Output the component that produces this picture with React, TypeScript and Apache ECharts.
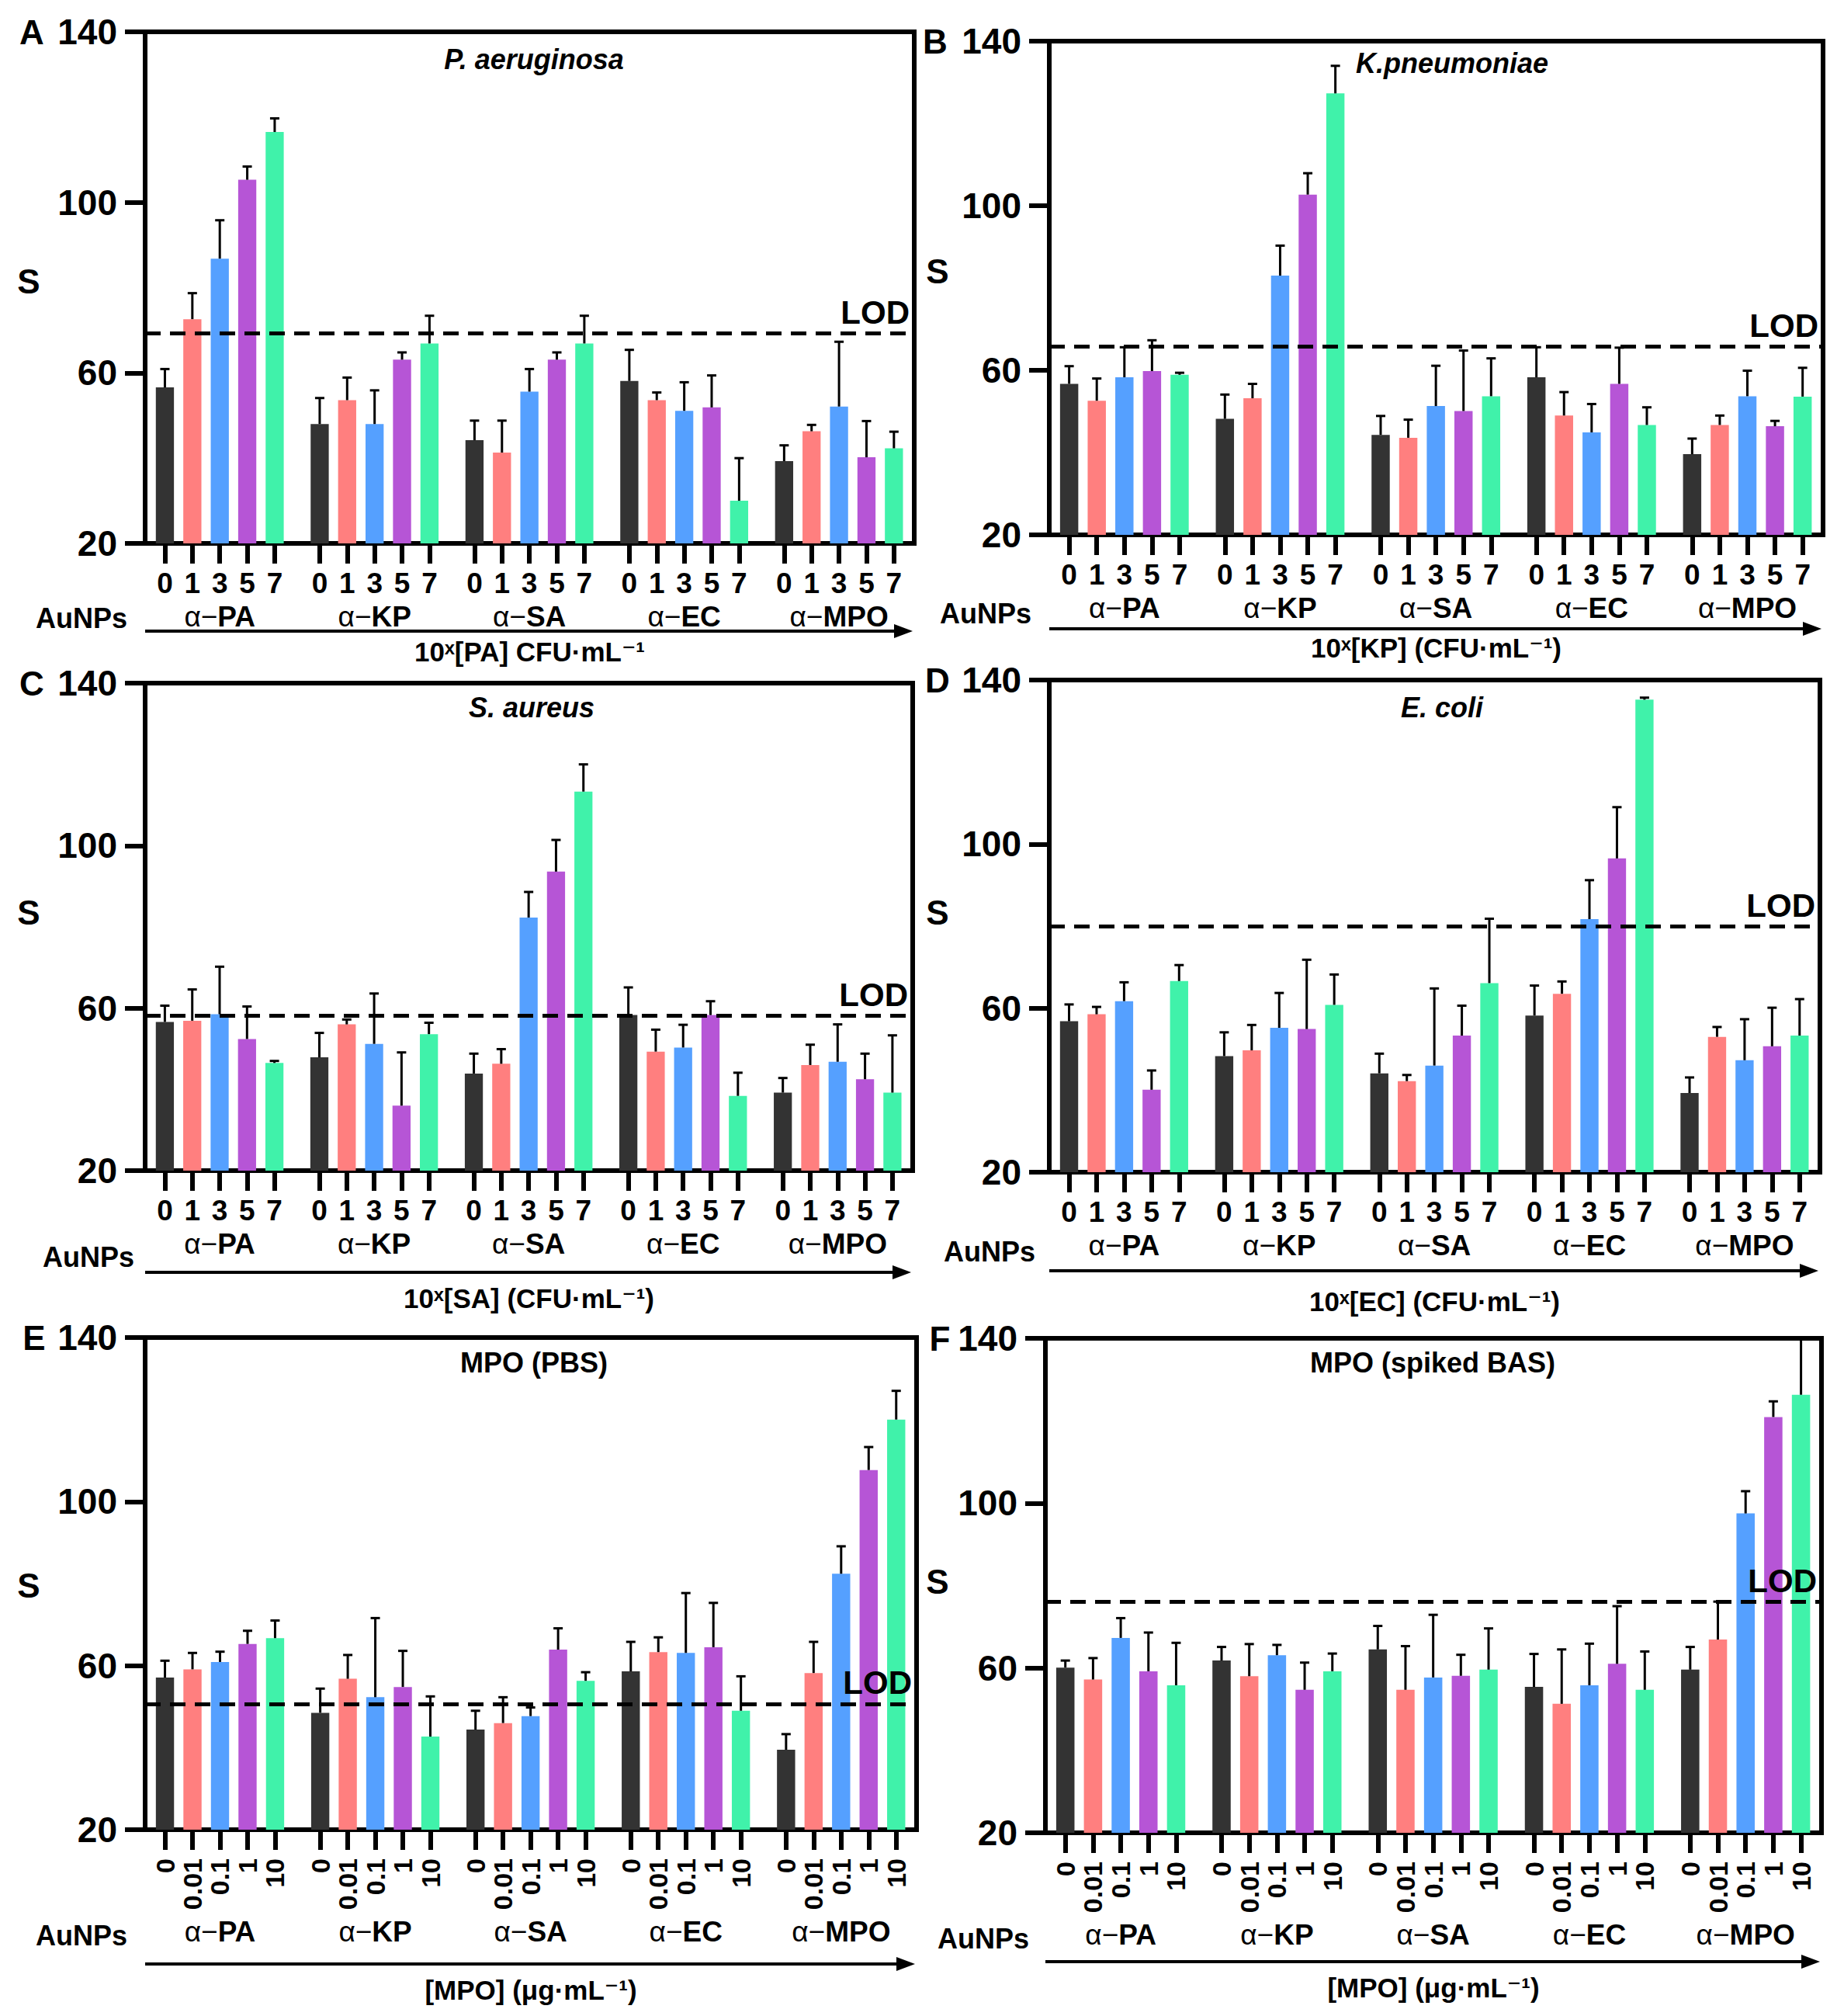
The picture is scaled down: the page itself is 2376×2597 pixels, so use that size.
import React, { useEffect, useRef } from 'react';
import * as echarts from 'echarts';

// groups of antibody-coated AuNPs and the concentration steps inside each group
const GROUPS = ['PA', 'KP', 'SA', 'EC', 'MPO'];
const CFU_TICKS = ['0', '1', '3', '5', '7'];
const MPO_TICKS = ['0', '0.01', '0.1', '1', '10'];
const Y_TICKS = [20, 60, 100, 140];

// A: P. aeruginosa
const aMean = [56.6, 72.6, 86.8, 105.3, 116.5, 48.0, 53.6, 48.0, 63.1, 66.9, 44.2, 41.3, 55.6, 63.1, 66.9, 58.1, 53.6, 51.1, 51.9, 30.0, 39.3, 46.3, 52.1, 40.2, 42.3];
const aSd = [4.3, 6.1, 9.0, 3.1, 3.2, 6.1, 5.3, 7.9, 1.7, 6.5, 4.6, 7.5, 5.3, 1.7, 6.5, 7.3, 1.8, 6.7, 7.5, 10.0, 3.7, 1.5, 15.2, 8.5, 3.9];
// B: K. pneumoniae
const bMean = [56.7, 52.6, 58.3, 59.8, 58.9, 48.2, 53.2, 83.0, 102.7, 127.3, 44.3, 43.6, 51.3, 50.1, 53.7, 58.3, 49.0, 44.9, 56.7, 46.7, 39.6, 46.7, 53.7, 46.4, 53.6];
const bSd = [4.3, 5.4, 7.3, 7.5, 0.5, 5.9, 3.5, 7.3, 5.2, 6.7, 4.6, 4.4, 9.8, 14.7, 9.2, 7.3, 5.7, 6.9, 8.8, 4.3, 3.8, 2.3, 6.2, 1.3, 7.0];
// C: S. aureus
const cMean = [56.6, 56.9, 58.5, 52.4, 46.5, 47.9, 56.0, 51.2, 36.0, 53.6, 43.9, 46.3, 82.3, 93.6, 113.3, 58.3, 49.3, 50.3, 58.3, 38.4, 39.2, 46.0, 46.8, 42.5, 39.2];
const cSd = [4.0, 7.7, 11.7, 8.0, 0.5, 6.0, 1.2, 12.4, 13.1, 2.8, 4.9, 3.6, 6.3, 7.8, 6.7, 6.8, 5.4, 5.6, 3.4, 5.7, 3.6, 5.0, 9.2, 6.3, 14.1];
// D: E. coli
const dMean = [56.8, 58.5, 61.7, 40.1, 66.6, 48.3, 49.7, 55.2, 54.9, 60.8, 44.1, 42.2, 46.0, 53.3, 66.1, 58.2, 63.5, 81.7, 96.5, 135.2, 39.3, 53.0, 47.3, 50.7, 53.3];
const dSd = [4.1, 1.8, 4.6, 4.7, 3.9, 5.8, 6.2, 8.5, 16.9, 7.4, 4.8, 1.5, 18.8, 7.3, 15.7, 7.3, 3.0, 9.5, 12.5, 0.5, 3.8, 2.4, 10.0, 9.4, 8.9];
// E: MPO in PBS
const eMean = [57.1, 59.1, 60.9, 65.3, 66.7, 48.5, 56.8, 52.3, 54.8, 42.7, 44.4, 46.0, 47.7, 63.9, 56.3, 58.6, 63.3, 63.1, 64.5, 49.0, 39.5, 58.2, 82.4, 107.7, 120.0];
const eSd = [4.1, 4.0, 2.5, 3.2, 4.3, 5.9, 5.8, 19.3, 8.8, 9.8, 4.6, 6.3, 2.1, 5.2, 2.1, 7.2, 3.6, 14.6, 10.8, 8.4, 3.8, 7.6, 6.7, 5.6, 7.0];
// F: MPO in spiked BAS
const fMean = [60.1, 57.2, 67.3, 59.2, 55.8, 61.8, 58.0, 63.1, 54.7, 59.2, 64.5, 54.7, 57.7, 58.1, 59.6, 55.4, 51.3, 55.8, 61.0, 54.7, 59.6, 66.9, 97.5, 120.9, 126.3];
const fSd = [1.7, 5.2, 4.8, 9.4, 10.3, 3.3, 7.8, 2.5, 6.6, 4.3, 5.7, 10.6, 15.2, 5.1, 10.0, 8.0, 13.2, 10.1, 14.0, 9.3, 5.5, 9.2, 5.4, 3.8, 13.5];

const LODS = [69.3, 65.8, 58.1, 80.0, 50.7, 76.1];

const COLORS = ['#333333', '#FF7F7F', '#55A0FF', '#B655D6', '#40F2AA'];
const FONT = '"Liberation Sans", Arial, "DejaVu Sans", sans-serif';

const panels = [
  { letter: 'A', title: 'P. aeruginosa', italic: true, mean: aMean, sd: aSd, ticks: CFU_TICKS, xTitle: '10ˣ[PA] CFU·mL⁻¹', sPos: [37, 362],
    box: { left: 187, top: 41, width: 991, height: 659 }, letterPos: [41, 41], titlePos: [688, 76], aunp: [46, 796], arrowY: 813, xTitleY: 839 },
  { letter: 'B', title: 'K.pneumoniae', italic: true, mean: bMean, sd: bSd, ticks: CFU_TICKS, xTitle: '10ˣ[KP] (CFU·mL⁻¹)', sPos: [1208, 349],
    box: { left: 1352, top: 53, width: 997, height: 636 }, letterPos: [1205, 53], titlePos: [1871, 81], aunp: [1211, 790], arrowY: 810, xTitleY: 834 },
  { letter: 'C', title: 'S. aureus', italic: true, mean: cMean, sd: cSd, ticks: CFU_TICKS, xTitle: '10ˣ[SA] (CFU·mL⁻¹)', sPos: [37, 1175],
    box: { left: 187, top: 880, width: 989, height: 628 }, letterPos: [41, 880], titlePos: [685, 911], aunp: [55, 1619], arrowY: 1639, xTitleY: 1672 },
  { letter: 'D', title: 'E. coli', italic: true, mean: dMean, sd: dSd, ticks: CFU_TICKS, xTitle: '10ˣ[EC] (CFU·mL⁻¹)', sPos: [1208, 1175],
    box: { left: 1352, top: 876, width: 993, height: 634 }, letterPos: [1208, 876], titlePos: [1858, 911], aunp: [1216, 1612], arrowY: 1637, xTitleY: 1676 },
  { letter: 'E', title: 'MPO (PBS)', italic: false, mean: eMean, sd: eSd, ticks: MPO_TICKS, xTitle: '[MPO] (μg·mL⁻¹)', sPos: [37, 2042],
    box: { left: 187, top: 1723, width: 994, height: 634 }, letterPos: [44, 1723], titlePos: [688, 1755], aunp: [46, 2493], arrowY: 2530, xTitleY: 2563 },
  { letter: 'F', title: 'MPO (spiked BAS)', italic: false, mean: fMean, sd: fSd, ticks: MPO_TICKS, xTitle: '[MPO] (μg·mL⁻¹)', sPos: [1208, 2037],
    box: { left: 1347, top: 1724, width: 1000, height: 637 }, letterPos: [1211, 1724], titlePos: [1846, 1755], aunp: [1208, 2497], arrowY: 2527, xTitleY: 2560 },
];

// bar slots: 5 bars per group, groups spaced a bit wider than one slot
const GROUP_PITCH = 5.64;
const X_MIN = -0.72;
const X_MAX = 27.3;
const positions = GROUPS.flatMap((_, g) => [0, 1, 2, 3, 4].map(i => +(g * GROUP_PITCH + i).toFixed(2)));
const groupCenters = GROUPS.map((_, g) => +(g * GROUP_PITCH + 2).toFixed(2));

const black = '#000';

function buildOption() {
  const grid: any[] = [];
  const xAxis: any[] = [];
  const yAxis: any[] = [];
  const series: any[] = [];
  const graphic: any[] = [];

  panels.forEach((p, n) => {
    const rotated = p.ticks === MPO_TICKS;
    grid.push({ ...p.box, show: true, borderColor: black, borderWidth: 6, containLabel: false });
    const labelOf = new Map(positions.map((x, k) => [x.toFixed(2), p.ticks[k % 5]]));
    const groupOf = new Map(groupCenters.map((x, g) => [x.toFixed(2), GROUPS[g]]));

    xAxis.push({
      gridIndex: n, type: 'value', min: X_MIN, max: X_MAX, position: 'bottom',
      axisLine: { show: true, onZero: false, lineStyle: { color: black, width: 6 } },
      axisTick: { show: true, length: 26, customValues: positions, lineStyle: { color: black, width: 6 } },
      axisLabel: {
        customValues: positions, color: black, fontFamily: FONT, fontWeight: 'bold', fontSize: rotated ? 34 : 37,
        margin: rotated ? 37 : 33, rotate: rotated ? 90 : 0,
        formatter: (v: number) => labelOf.get(v.toFixed(2)) ?? '',
      },
      splitLine: { show: false },
    });
    xAxis.push({
      gridIndex: n, type: 'value', min: X_MIN, max: X_MAX, position: 'bottom',
      axisLine: { show: false, onZero: false }, axisTick: { show: false }, splitLine: { show: false },
      axisLabel: {
        customValues: groupCenters, margin: rotated ? 113 : 76, color: black,
        formatter: (v: number) => `{a|α−}{b|${groupOf.get(v.toFixed(2)) ?? ''}}`,
        rich: {
          a: { fontSize: 37, fontFamily: FONT, fontWeight: 'normal', color: black },
          b: { fontSize: 37, fontFamily: FONT, fontWeight: 'bold', color: black },
        },
      },
    });
    yAxis.push({
      gridIndex: n, type: 'value', min: 20, max: 140, interval: 40, position: 'left',
      axisLine: { show: true, onZero: false, lineStyle: { color: black, width: 6 } },
      axisTick: { show: true, length: 26, customValues: Y_TICKS, lineStyle: { color: black, width: 6 } },
      axisLabel: { customValues: Y_TICKS, color: black, fontFamily: FONT, fontWeight: 'bold', fontSize: 46, margin: 36 },
      splitLine: { show: false },
    });

    const slotPx = p.box.width / (X_MAX - X_MIN);
    series.push({
      type: 'bar', xAxisIndex: 2 * n, yAxisIndex: n, barWidth: slotPx * 0.66,
      data: p.mean.map((v, k) => ({ value: [positions[k], v], itemStyle: { color: COLORS[k % 5] } })),
      markLine: {
        silent: true, symbol: 'none', animation: false,
        data: [{ yAxis: LODS[n] }],
        lineStyle: { type: [20, 12], width: 5, color: black },
        label: { show: true, position: 'insideEndTop', formatter: 'LOD', color: black, fontFamily: FONT, fontWeight: 'bold', fontSize: 42, distance: 6 },
      },
      z: 2,
    });
    series.push({
      type: 'custom', xAxisIndex: 2 * n, yAxisIndex: n, z: 3,
      data: p.mean.map((v, k) => [positions[k], v, +(v + p.sd[k]).toFixed(1)]),
      encode: { x: 0, y: [1, 2] },
      renderItem: (_params: any, api: any) => {
        const x = api.value(0);
        const base = api.coord([x, api.value(1)]);
        const top = api.coord([x, api.value(2)]);
        const st = { stroke: black, lineWidth: 3 };
        return {
          type: 'group',
          children: [
            { type: 'line', shape: { x1: base[0], y1: base[1], x2: top[0], y2: top[1] }, style: st },
            { type: 'line', shape: { x1: top[0] - 6, y1: top[1], x2: top[0] + 6, y2: top[1] }, style: st },
          ],
        };
      },
    });

    const txt = (text: string, x: number, y: number, size: number, extra: any = {}) => ({
      type: 'text', x, y, silent: true,
      style: {
        text, fill: black, fontFamily: FONT, fontWeight: 'bold', fontSize: size,
        align: 'center', textAlign: 'center', verticalAlign: 'middle', textVerticalAlign: 'middle', ...extra,
      },
    });
    graphic.push(txt(p.letter, p.letterPos[0], p.letterPos[1], 44));
    graphic.push(txt('S', p.sPos[0], p.sPos[1], 44));
    graphic.push(txt(p.title, p.titlePos[0], p.titlePos[1], 36, { fontStyle: p.italic ? 'italic' : 'normal' }));
    graphic.push(txt('AuNPs', p.aunp[0], p.aunp[1], 36, { align: 'left', textAlign: 'left' }));
    graphic.push(txt(p.xTitle, p.box.left + p.box.width / 2, p.xTitleY, 35));
    const x1 = p.box.left;
    const x2 = p.box.left + p.box.width - 4;
    graphic.push({ type: 'line', silent: true, shape: { x1, y1: p.arrowY, x2: x2 - 12, y2: p.arrowY }, style: { stroke: black, lineWidth: 4 } });
    graphic.push({
      type: 'polygon', silent: true,
      shape: { points: [[x2 + 2, p.arrowY], [x2 - 22, p.arrowY - 9], [x2 - 22, p.arrowY + 9]] },
      style: { fill: black },
    });
  });

  return { animation: false, backgroundColor: '#fff', grid, xAxis, yAxis, series, graphic };
}

const App: React.FC = () => {
  const ref = useRef<HTMLDivElement>(null);

  useEffect(() => {
    if (!ref.current) return;
    document.body.style.margin = '0';
    const chart = echarts.init(ref.current, undefined, { renderer: 'svg' });
    chart.setOption(buildOption());
    return () => { chart.dispose(); };
  }, []);

  return <div ref={ref} style={{ position: 'absolute', left: 0, top: 0, width: 2376, height: 2597, background: '#fff' }} />;
};

export default App;
